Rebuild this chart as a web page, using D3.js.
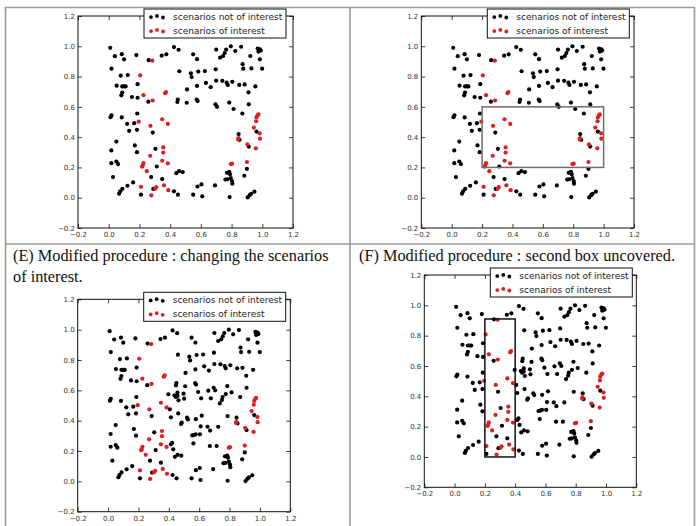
<!DOCTYPE html>
<html><head><meta charset="utf-8">
<script src="https://cdn.jsdelivr.net/npm/d3@7"></script>
<style>body{margin:0;background:#fff}svg{display:block}</style>
</head><body><svg id="c" width="697" height="526"></svg>
<script>
// ---------- data ----------
const tickValues = [-0.2, 0.0, 0.2, 0.4, 0.6, 0.8, 1.0, 1.2];
const legendLabels = ["scenarios not of interest", "scenarios of interest"];
const captionE = ["(E) Modified procedure : changing the scenarios", "of interest."];
const captionF = ["(F) Modified procedure : second box uncovered."];

// scenarios not of interest (all panels)
const baseX = [0.01,0.04,0.085,0.10,0.18,0.26,0.345,0.375,0.425,0.455,0.55,0.575,0.70,0.765,0.755,0.795,0.725,0.745,0.824,0.862,
  0.97,0.98,0.985,0.975,0.99,0.922,0.984,0.872,0.876,0.929,0.999,0.018,0.46,0.535,0.54,0.583,0.626,0.697,0.078,0.124,
  0.052,0.088,0.10,0.11,0.088,0.082,0.188,0.151,0.188,0.258,0.45,0.447,0.508,0.51,0.575,0.633,0.664,0.70,0.74,0.768,
  0.775,0.805,0.85,0.885,0.91,0.955,0.573,0.579,0.695,0.705,0.785,0.813,0.87,0.912,0.018,0.012,0.085,0.186,0.12,0.166,
  0.133,0.184,0.287,0.05,0.017,0.17,0.184,0.304,0.017,0.05,0.061,0.313,0.44,0.458,0.482,0.276,0.348,0.028,0.159,0.122,
  0.089,0.075,0.068,0.21,0.29,0.425,0.451,0.55,0.609,0.578,0.604,0.692,0.787,0.77,0.785,0.79,0.774,0.795,0.803,0.805,
  0.76,0.883,0.9,0.905,0.918,0.927,0.949,0.912,0.846,0.852,0.962];
const baseY = [0.99,0.935,0.948,0.914,0.942,0.908,0.938,0.947,0.995,0.977,0.947,0.915,0.978,0.978,0.955,1.0,0.925,0.936,0.969,0.997,
  0.985,0.97,0.98,0.965,0.972,0.936,0.914,0.882,0.852,0.854,0.852,0.852,0.835,0.822,0.797,0.833,0.836,0.848,0.806,0.81,
  0.74,0.735,0.735,0.735,0.694,0.676,0.75,0.665,0.66,0.634,0.648,0.632,0.627,0.715,0.738,0.758,0.73,0.773,0.772,0.76,
  0.745,0.765,0.745,0.748,0.696,0.735,0.648,0.638,0.617,0.60,0.628,0.586,0.556,0.617,0.544,0.532,0.53,0.556,0.488,0.492,
  0.442,0.448,0.43,0.371,0.312,0.345,0.301,0.323,0.228,0.239,0.222,0.206,0.162,0.175,0.169,0.136,0.123,0.136,0.101,0.079,
  0.059,0.042,0.027,0.02,0.058,0.042,0.02,0.02,0.009,0.074,0.088,0.081,0.004,0.165,0.17,0.155,0.122,0.13,0.11,0.093,
  0.12,0.145,0.191,0.002,0.017,0.026,0.04,0.338,0.42,0.382,0.437];

// extra scenarios not of interest added in the modified procedure (panels E, F)
const extraX = [0.397,0.437,0.446,0.457,0.464,0.457,0.497,0.501,0.407,0.414,0.462,0.48,0.485,0.52,0.526,0.578,0.617,
  0.61,0.655,0.672,0.725,0.787,0.554,0.565,0.577,0.605,0.562,0.67,0.715,0.414,0.422,0.429,0.736,0.593,0.66,0.677,0.613,
  0.754,0.75,0.775];
const extraY = [0.574,0.567,0.556,0.563,0.534,0.585,0.578,0.545,0.475,0.422,0.448,0.378,0.387,0.42,0.408,0.41,0.433,
  0.362,0.36,0.335,0.36,0.43,0.303,0.305,0.31,0.31,0.25,0.233,0.233,0.244,0.254,0.211,0.514,0.589,0.598,0.547,0.547,
  0.556,0.536,0.575];

// scenarios of interest
const redX = [0.284,0.205,0.226,0.286,0.367,0.373,0.195,0.272,0.348,0.385,0.355,0.355,0.27,0.348,0.385,0.226,0.221,0.218,
  0.248,0.21,0.277,0.303,0.31,0.36,0.388,0.795,0.803,0.9,0.845,0.843,0.903,0.958,0.945,0.96,0.962,0.97,0.975,0.983,0.985];
const redY = [0.905,0.808,0.677,0.642,0.69,0.698,0.502,0.475,0.518,0.487,0.332,0.298,0.277,0.244,0.227,0.228,0.212,0.205,
  0.175,0.072,0.016,0.06,0.07,0.082,0.05,0.222,0.225,0.236,0.393,0.385,0.352,0.326,0.463,0.505,0.53,0.545,0.55,0.425,0.39];

const boxB = [0.2, 1.0, 0.2, 0.6];   // x0, x1, y0, y1
const boxF = [0.2, 0.4, 0.0, 0.91];

// ---------- drawing ----------
const svg = d3.select("#c");
svg.append("rect").attr("width", 697).attr("height", 526).attr("fill", "#fff");

// table grid
const grid = svg.append("g").attr("stroke", "#9a9a9a").attr("stroke-width", 1.6).attr("fill", "none");
grid.append("line").attr("x1", 5).attr("x2", 695).attr("y1", 7.5).attr("y2", 7.5);
grid.append("line").attr("x1", 5).attr("x2", 695).attr("y1", 244).attr("y2", 244);
grid.append("line").attr("x1", 5.5).attr("x2", 5.5).attr("y1", 7).attr("y2", 526);
grid.append("line").attr("x1", 350).attr("x2", 350).attr("y1", 7).attr("y2", 526);
grid.append("line").attr("x1", 694.5).attr("x2", 694.5).attr("y1", 7).attr("y2", 526);

// captions
function caption(lines, x, y) {
  const t = svg.append("text").attr("x", x).attr("y", y)
    .attr("font-family", "'Liberation Serif','Times New Roman',serif").attr("font-size", 16.3).attr("fill", "#111");
  lines.forEach((l, i) => t.append("tspan").attr("x", x).attr("dy", i === 0 ? 0 : 21).text(l));
}
caption(captionE, 13, 261);
caption(captionF, 359, 261);

const panels = [
  {l: 78, r: 293, t: 16, b: 228, extra: false, box: null},
  {l: 421.3, r: 634, t: 16, b: 228, extra: false, box: boxB, boxColor: "#6e6e6e"},
  {l: 77.7, r: 290.3, t: 299.3, b: 511.7, extra: true, box: null},
  {l: 424.3, r: 636.3, t: 275, b: 487.3, extra: true, box: boxF, boxColor: "#111"}
];

const fmt = d3.format(".1f");

panels.forEach(p => {
  const x = d3.scaleLinear().domain([-0.2, 1.2]).range([p.l, p.r]);
  const y = d3.scaleLinear().domain([-0.2, 1.2]).range([p.b, p.t]);
  const g = svg.append("g");

  const styleAxis = sel => {
    sel.select(".domain").remove();
    sel.selectAll(".tick line").attr("stroke", "#111").attr("stroke-width", 0.8);
    sel.selectAll(".tick text").attr("font-family", "'DejaVu Sans',sans-serif").attr("font-size", 7).attr("fill", "#333");
  };
  g.append("g").attr("transform", `translate(0,${p.b})`)
    .call(d3.axisBottom(x).tickValues(tickValues).tickFormat(fmt).tickSize(-4).tickPadding(4)).call(styleAxis);
  g.append("g").attr("transform", `translate(${p.l},0)`)
    .call(d3.axisLeft(y).tickValues(tickValues).tickFormat(fmt).tickSize(-4).tickPadding(3)).call(styleAxis);
  g.append("g").attr("transform", `translate(0,${p.t})`)
    .call(d3.axisTop(x).tickValues(tickValues).tickFormat("").tickSize(-4)).call(styleAxis);
  g.append("g").attr("transform", `translate(${p.r},0)`)
    .call(d3.axisRight(y).tickValues(tickValues).tickFormat("").tickSize(-4)).call(styleAxis);

  // frame
  g.append("rect").attr("x", p.l).attr("y", p.t).attr("width", p.r - p.l).attr("height", p.b - p.t)
    .attr("fill", "none").attr("stroke", "#111").attr("stroke-width", 1);

  // points
  const black = baseX.map((v, i) => [v, baseY[i]]);
  if (p.extra) extraX.forEach((v, i) => black.push([v, extraY[i]]));
  g.append("g").selectAll("circle").data(black).join("circle")
    .attr("cx", d => x(d[0])).attr("cy", d => y(d[1])).attr("r", 2.1).attr("fill", "#000");
  const red = redX.map((v, i) => [v, redY[i]]);
  g.append("g").selectAll("circle").data(red).join("circle")
    .attr("cx", d => x(d[0])).attr("cy", d => y(d[1])).attr("r", 2.1).attr("fill", "#dc1e1e");

  // box
  if (p.box) {
    g.append("rect").attr("x", x(p.box[0])).attr("y", y(p.box[3]))
      .attr("width", x(p.box[1]) - x(p.box[0])).attr("height", y(p.box[2]) - y(p.box[3]))
      .attr("fill", "none").attr("stroke", p.boxColor).attr("stroke-width", 1.5);
  }

  // legend
  const lx = p.l + 66, ly = p.t - 7;
  const lg = g.append("g").attr("transform", `translate(${lx},${ly})`);
  lg.append("rect").attr("width", 142).attr("height", 29).attr("fill", "#fff").attr("stroke", "#111").attr("stroke-width", 1);
  const offs = [0.6, -0.6, 1.0];
  legendLabels.forEach((lab, i) => {
    const cy = 7.5 + i * 14;
    [7, 13, 19].forEach((dx, k) => lg.append("circle").attr("cx", dx).attr("cy", cy + offs[k])
      .attr("r", 1.9).attr("fill", i === 0 ? "#000" : "#dc1e1e"));
    lg.append("text").attr("x", 29).attr("y", cy + 3.2).text(lab)
      .attr("font-family", "'DejaVu Sans',sans-serif").attr("font-size", 9).attr("fill", "#222");
  });
});
</script></body></html>
